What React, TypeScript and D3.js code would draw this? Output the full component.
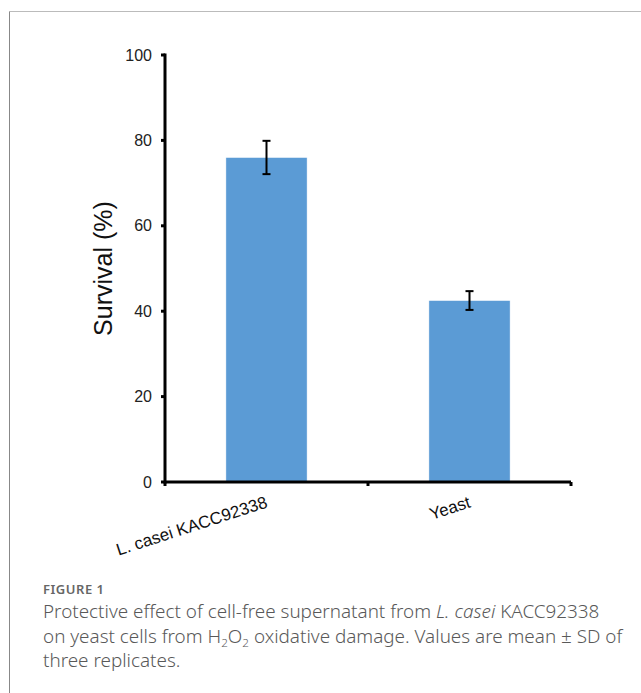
import React, { useLayoutEffect, useRef, useState } from "react";
import * as d3 from "d3";

const categories = ["L. casei KACC92338", "Yeast"];
const survival = [76, 42.5];
const sd = [3.9, 2.2];
const yTicks = [0, 20, 40, 60, 80, 100];

const W = 641;
const H = 693;
const margin = { left: 165, top: 55 };
const plotW = 406;
const plotH = 427;

// caption line 1 runs from x=43 to about x=599 in the reference
const captionX = 43;
const captionWidth = 556;

export default function App() {
  const x = d3.scaleBand().domain(categories).range([0, plotW]).paddingInner(0.6).paddingOuter(0.3);
  const y = d3.scaleLinear().domain([0, 100]).range([plotH, 0]);

  const line1 = useRef<SVGTextElement>(null);
  const [capSize, setCapSize] = useState(17.7);

  useLayoutEffect(() => {
    if (!line1.current) return;
    const len = line1.current.getComputedTextLength();
    if (len > 0 && Math.abs(len - captionWidth) > 2) {
      setCapSize((s) => (s * captionWidth) / len);
    }
  }, [capSize]);

  const lh = capSize * 1.3;

  return (
    <svg width={W} height={H} style={{ position: "absolute", left: 0, top: 0, background: "#fff" }}>
      {/* frame */}
      <line x1={9.5} y1={11.5} x2={W} y2={11.5} stroke="#bbb" strokeWidth={1} />
      <line x1={9.5} y1={11.5} x2={9.5} y2={H} stroke="#888" strokeWidth={1} />

      <g transform={`translate(${margin.left},${margin.top})`} fontFamily="Liberation Sans, Arial, sans-serif">
        {categories.map((c, i) => {
          const bx = x(c)!;
          const cx = bx + x.bandwidth() / 2;
          return (
            <g key={c}>
              <rect x={bx} y={y(survival[i])} width={x.bandwidth()} height={y(0) - y(survival[i])} fill="#5B9BD5" stroke="#fff" strokeWidth={0.5} />
              <line x1={cx} x2={cx} y1={y(survival[i] + sd[i])} y2={y(survival[i] - sd[i])} stroke="#000" strokeWidth={2} />
              <line x1={cx - 4} x2={cx + 4} y1={y(survival[i] + sd[i])} y2={y(survival[i] + sd[i])} stroke="#000" strokeWidth={2} />
              <line x1={cx - 4} x2={cx + 4} y1={y(survival[i] - sd[i])} y2={y(survival[i] - sd[i])} stroke="#000" strokeWidth={2} />
              <text
                transform={`translate(${cx + 2},${y(0) + 25}) rotate(-18)`}
                textAnchor="end"
                fontSize={17}
                fill="#111"
              >
                {c}
              </text>
            </g>
          );
        })}

        {/* y axis */}
        <line x1={0} x2={0} y1={y(100) - 1.5} y2={y(0) + 1.5} stroke="#000" strokeWidth={3} />
        {yTicks.map((t) => (
          <g key={t} transform={`translate(0,${y(t)})`}>
            <line x1={-4} x2={0} stroke="#000" strokeWidth={3} />
            <text x={-13} dy="0.35em" textAnchor="end" fontSize={16} fill="#222">
              {t}
            </text>
          </g>
        ))}

        {/* x axis */}
        <line x1={0} x2={plotW} y1={y(0)} y2={y(0)} stroke="#000" strokeWidth={3} />
        {[0, plotW / 2, plotW].map((t) => (
          <line key={t} x1={t} x2={t} y1={y(0)} y2={y(0) + 4} stroke="#000" strokeWidth={3} />
        ))}

        <text transform={`translate(-53,${y(50)}) rotate(-90)`} textAnchor="middle" fontSize={25} fill="#111">
          Survival (%)
        </text>
      </g>

      <g fontFamily="Noto Sans, Open Sans, sans-serif" fill="#595959">
        <text x={captionX} y={594} fontSize={13} fontWeight={600} fill="#666" textLength={61}>FIGURE 1</text>
        <text ref={line1} x={captionX} y={618} fontSize={capSize} fontWeight={300}>
          Protective effect of cell-free supernatant from <tspan fontStyle="italic">L. casei</tspan> KACC92338
        </text>
        <text x={captionX} y={618 + lh} fontSize={capSize} fontWeight={300}>
          on yeast cells from H<tspan fontSize={capSize * 0.62} dy={4}>2</tspan>
          <tspan dy={-4}>O</tspan>
          <tspan fontSize={capSize * 0.62} dy={4}>2</tspan>
          <tspan dy={-4}> oxidative damage. Values are mean ± SD of</tspan>
        </text>
        <text x={captionX} y={618 + 2 * lh} fontSize={capSize} fontWeight={300}>
          three replicates.
        </text>
      </g>
    </svg>
  );
}
